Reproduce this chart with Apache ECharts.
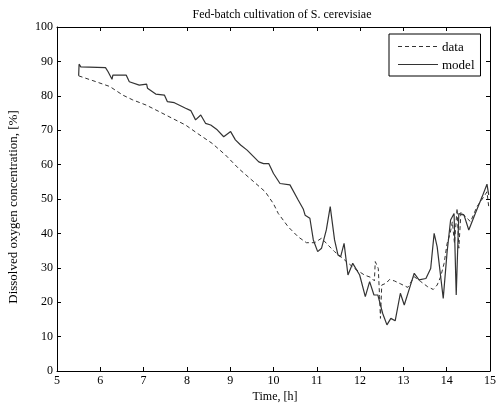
<!DOCTYPE html>
<html>
<head>
<meta charset="utf-8">
<script src="https://cdn.jsdelivr.net/npm/echarts@6/dist/echarts.min.js"></script>
<style>html,body{margin:0;padding:0;background:#fff}#c{width:499px;height:407px}</style>
</head>
<body>
<div id="c"></div>
<script>
var titleText = 'Fed-batch cultivation of S. cerevisiae';
var xLabel = 'Time, [h]';
var yLabel = 'Dissolved oxygen concentration, [%]';
var xTicks = [5, 6, 7, 8, 9, 10, 11, 12, 13, 14, 15];
var yTicks = [0, 10, 20, 30, 40, 50, 60, 70, 80, 90, 100];

var dataX = [5.5, 5.83, 6.22, 6.52, 6.75, 7.06, 7.36, 7.67, 7.97, 8.24, 8.58, 8.89, 9.2, 9.5, 9.81, 10.0, 10.11, 10.34, 10.57, 10.76, 10.95, 11.11, 11.26, 11.41, 11.64, 11.87, 12.10, 12.25, 12.33, 12.35, 12.42, 12.45, 12.47, 12.5, 12.6, 12.68, 12.79, 12.94, 13.1, 13.25, 13.4, 13.56, 13.69, 13.78, 13.86, 13.94, 14.01, 14.08, 14.13, 14.18, 14.24, 14.28, 14.33, 14.43, 14.55, 14.70, 14.86, 14.93, 14.97];
var dataY = [85.8, 84.4, 82.7, 80.2, 78.8, 77.3, 75.4, 73.4, 71.5, 69.1, 66.2, 62.8, 58.8, 55.5, 52.1, 48.6, 45.8, 41.9, 39.0, 37.3, 37.3, 38.6, 36.6, 34.7, 32.3, 29.8, 27.9, 27.2, 26.2, 31.8, 29.8, 21.6, 15.3, 25.0, 25.5, 26.6, 26.2, 25.3, 24.3, 27.4, 26.0, 24.5, 23.7, 25.0, 27.4, 31.3, 37.1, 40.0, 43.4, 37.1, 47.3, 35.7, 46.3, 44.9, 43.4, 47.8, 50.7, 52.1, 47.8];

var modelX = [5.5, 5.51, 5.55, 6.12, 6.18, 6.27, 6.29, 6.6, 6.67, 6.9, 7.07, 7.09, 7.28, 7.48, 7.55, 7.71, 7.97, 8.09, 8.2, 8.32, 8.43, 8.55, 8.70, 8.85, 9.01, 9.12, 9.24, 9.39, 9.54, 9.66, 9.77, 9.89, 10.0, 10.15, 10.38, 10.57, 10.69, 10.73, 10.84, 10.92, 11.02, 11.11, 11.22, 11.31, 11.41, 11.49, 11.55, 11.63, 11.72, 11.83, 11.99, 12.12, 12.22, 12.32, 12.41, 12.52, 12.62, 12.71, 12.81, 12.93, 13.02, 13.14, 13.25, 13.36, 13.52, 13.63, 13.71, 13.78, 13.92, 14.01, 14.09, 14.17, 14.22, 14.28, 14.40, 14.51, 14.66, 14.82, 14.93, 14.97];
var modelY = [85.8, 89.2, 88.4, 88.2, 87.0, 84.8, 86.0, 86.0, 84.1, 83.1, 83.4, 82.2, 80.5, 80.2, 78.3, 78.0, 76.4, 75.7, 73.0, 74.4, 72.0, 71.5, 70.1, 68.1, 69.6, 67.2, 65.7, 64.2, 62.3, 60.8, 60.3, 60.3, 57.4, 54.5, 54.1, 49.7, 47.0, 45.3, 44.4, 38.1, 34.7, 35.7, 41.0, 47.8, 38.1, 33.7, 33.2, 37.1, 27.9, 31.3, 27.9, 21.6, 26.0, 22.1, 22.1, 16.8, 13.4, 15.3, 14.6, 22.6, 19.2, 24.0, 28.4, 26.5, 26.9, 29.8, 40.0, 36.1, 21.1, 34.7, 43.9, 45.8, 22.1, 45.8, 45.3, 41.0, 45.8, 50.7, 54.3, 51.2];

function zip(a, b) { return a.map(function (v, i) { return [v, b[i]]; }); }

var serif = '"Liberation Serif", "DejaVu Serif", serif';
var lineColor = '#333';
var chart = echarts.init(document.getElementById('c'), null, { renderer: 'canvas' });
var axisCommon = {
  axisLine: { show: true, onZero: false, lineStyle: { color: '#000', width: 1 } },
  axisTick: { show: true, inside: true, length: 4, lineStyle: { color: '#000' } },
  splitLine: { show: false }
};
chart.setOption({
  animation: false,
  backgroundColor: '#fff',
  title: {
    text: titleText, left: 277, top: 4, textAlign: 'center',
    textStyle: { fontFamily: serif, fontSize: 12, fontWeight: 'normal', color: '#000' }
  },
  grid: { left: 57, right: 6, top: 27, bottom: 36 },
  legend: {
    orient: 'vertical', left: 389, top: 34,
    backgroundColor: '#fff', borderColor: '#000', borderWidth: 1,
    padding: [7, 6, 4, 8], itemGap: 5, itemWidth: 40, itemHeight: 8,
    textStyle: { fontFamily: serif, fontSize: 13, color: '#000' },
    data: [{ name: 'data', icon: 'none' }, { name: 'model', icon: 'none' }]
  },
  xAxis: [
    Object.assign({
      type: 'value', min: xTicks[0], max: xTicks[xTicks.length - 1], interval: 1, position: 'bottom',
      axisLabel: { color: '#000', fontFamily: serif, fontSize: 12, margin: 4 }
    }, axisCommon),
    Object.assign({
      type: 'value', min: xTicks[0], max: xTicks[xTicks.length - 1], interval: 1, position: 'top',
      axisLabel: { show: false }
    }, axisCommon)
  ],
  yAxis: [
    Object.assign({
      type: 'value', min: yTicks[0], max: yTicks[yTicks.length - 1], interval: 10, position: 'left',
      axisLabel: { color: '#000', fontFamily: serif, fontSize: 12, margin: 4 }
    }, axisCommon),
    Object.assign({
      type: 'value', min: yTicks[0], max: yTicks[yTicks.length - 1], interval: 10, position: 'right',
      axisLabel: { show: false }
    }, axisCommon)
  ],
  graphic: [
    { type: 'text', x: 275, y: 397,
      style: { text: xLabel, fontFamily: serif, fontSize: 12, fill: '#000', align: 'center', verticalAlign: 'middle' } },
    { type: 'text', x: 14, y: 207, rotation: Math.PI / 2,
      style: { text: yLabel, fontFamily: serif, fontSize: 13, fill: '#000', align: 'center', verticalAlign: 'middle' } },
    { type: 'line', z: 100, shape: { x1: 398, y1: 46.5, x2: 438, y2: 46.5 },
      style: { stroke: lineColor, lineWidth: 1, lineDash: [4, 3] } },
    { type: 'line', z: 100, shape: { x1: 398, y1: 64.5, x2: 438, y2: 64.5 },
      style: { stroke: lineColor, lineWidth: 1.2 } }
  ],
  series: [
    {
      name: 'data', type: 'line', data: zip(dataX, dataY), showSymbol: false, symbol: 'none',
      lineStyle: { color: lineColor, width: 1, type: [4, 3] }, itemStyle: { color: lineColor }
    },
    {
      name: 'model', type: 'line', data: zip(modelX, modelY), showSymbol: false, symbol: 'none',
      lineStyle: { color: lineColor, width: 1.2 }, itemStyle: { color: lineColor }
    }
  ]
});
</script>
</body>
</html>
